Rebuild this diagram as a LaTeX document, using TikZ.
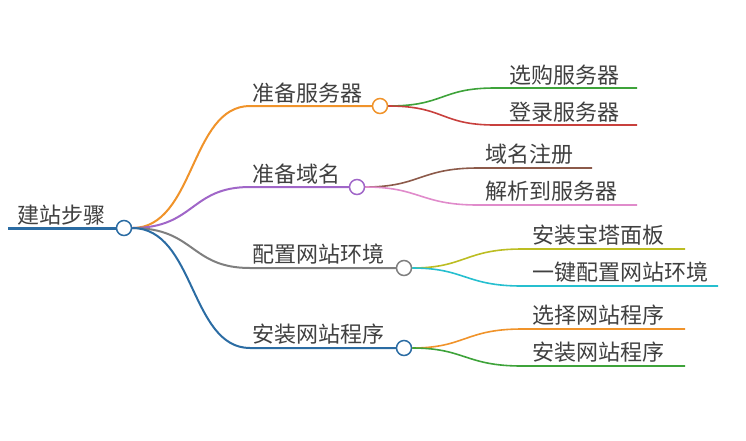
\documentclass[tikz,border=0pt]{standalone}
\usepackage{fontspec}
\setmainfont{Noto Sans CJK SC}
\begin{document}
\begin{tikzpicture}[x=1pt,y=-1pt,
  lbl/.style={anchor=south west,inner sep=1pt,text=black!75,font=\fontsize{22}{22}\selectfont},
  dot/.style={circle,draw,fill=white,minimum size=15pt,inner sep=0pt,line width=1.5pt},
  br/.style={line width=2pt},
  lf/.style={line width=1.6pt}]
\useasboundingbox (0,0) rectangle (746,440);
\definecolor{cblue}{HTML}{2B6CA3}
\definecolor{corange}{HTML}{F0932A}
\definecolor{cpurple}{HTML}{A066C8}
\definecolor{cgray}{HTML}{7F7F7F}
\definecolor{cgreen}{HTML}{3EA33A}
\definecolor{cred}{HTML}{C8403D}
\definecolor{cbrown}{HTML}{8C5A4A}
\definecolor{cpink}{HTML}{E08BCB}
\definecolor{colive}{HTML}{BCBD22}
\definecolor{ccyan}{HTML}{26BFCF}
% root
\coordinate (r0) at (8,228);
\node[dot,draw=cblue] (root) at (124,228) {};
\draw[cblue,line width=3pt] (r0) -- (root.west);
\node[lbl] (rt) at (16,226) {建站步骤};
% branch nodes
\node[dot,draw=corange] (b1) at (380,106) {};
\node[dot,draw=cpurple] (b2) at (357,187) {};
\node[dot,draw=cgray] (b3) at (404,268) {};
\node[dot,draw=cblue] (b4) at (404,348) {};
\coordinate (s1) at (250,106); \coordinate (s2) at (250,187);
\coordinate (s3) at (250,268); \coordinate (s4) at (250,348);
\draw[br,corange] (root.east) .. controls (195,228) and (190,106) .. (s1) -- (b1.west);
\draw[br,cpurple] (root.east) .. controls (195,228) and (190,187) .. (s2) -- (b2.west);
\draw[br,cgray] (root.east) .. controls (195,228) and (190,268) .. (s3) -- (b3.west);
\draw[br,cblue] (root.east) .. controls (195,228) and (190,348) .. (s4) -- (b4.west);
\node[lbl] (t1) at (251,104) {准备服务器};
\node[lbl] (t2) at (251,185) {准备域名};
\node[lbl] (t3) at (251,266) {配置网站环境};
\node[lbl] (t4) at (251,346) {安装网站程序};
% leaves
\coordinate (a1) at (495,88); \coordinate (e1) at (637,88);
\coordinate (a2) at (495,125); \coordinate (e2) at (637,125);
\coordinate (a3) at (478,168); \coordinate (e3) at (592,168);
\coordinate (a4) at (478,205); \coordinate (e4) at (637,205);
\coordinate (a5) at (522,249); \coordinate (e5) at (685,249);
\coordinate (a6) at (522,286); \coordinate (e6) at (718,286);
\coordinate (a7) at (522,329); \coordinate (e7) at (685,329);
\coordinate (a8) at (522,366); \coordinate (e8) at (685,366);
\draw[lf,cgreen] (b1.east) .. controls (445,106) and (440,88) .. (a1) -- (e1);
\draw[lf,cred] (b1.east) .. controls (445,106) and (440,125) .. (a2) -- (e2);
\draw[lf,cbrown] (b2.east) .. controls (420,187) and (420,168) .. (a3) -- (e3);
\draw[lf,cpink] (b2.east) .. controls (420,187) and (420,205) .. (a4) -- (e4);
\draw[lf,colive] (b3.east) .. controls (465,268) and (465,249) .. (a5) -- (e5);
\draw[lf,ccyan] (b3.east) .. controls (465,268) and (465,286) .. (a6) -- (e6);
\draw[lf,corange] (b4.east) .. controls (465,348) and (465,329) .. (a7) -- (e7);
\draw[lf,cgreen] (b4.east) .. controls (465,348) and (465,366) .. (a8) -- (e8);
\node[lbl] (l1) at (508,86) {选购服务器};
\node[lbl] (l2) at (508,123) {登录服务器};
\node[lbl] (l3) at (484,166) {域名注册};
\node[lbl] (l4) at (484,203) {解析到服务器};
\node[lbl] (l5) at (531,247) {安装宝塔面板};
\node[lbl] (l6) at (531,284) {一键配置网站环境};
\node[lbl] (l7) at (531,327) {选择网站程序};
\node[lbl] (l8) at (531,364) {安装网站程序};
\end{tikzpicture}
\end{document}
